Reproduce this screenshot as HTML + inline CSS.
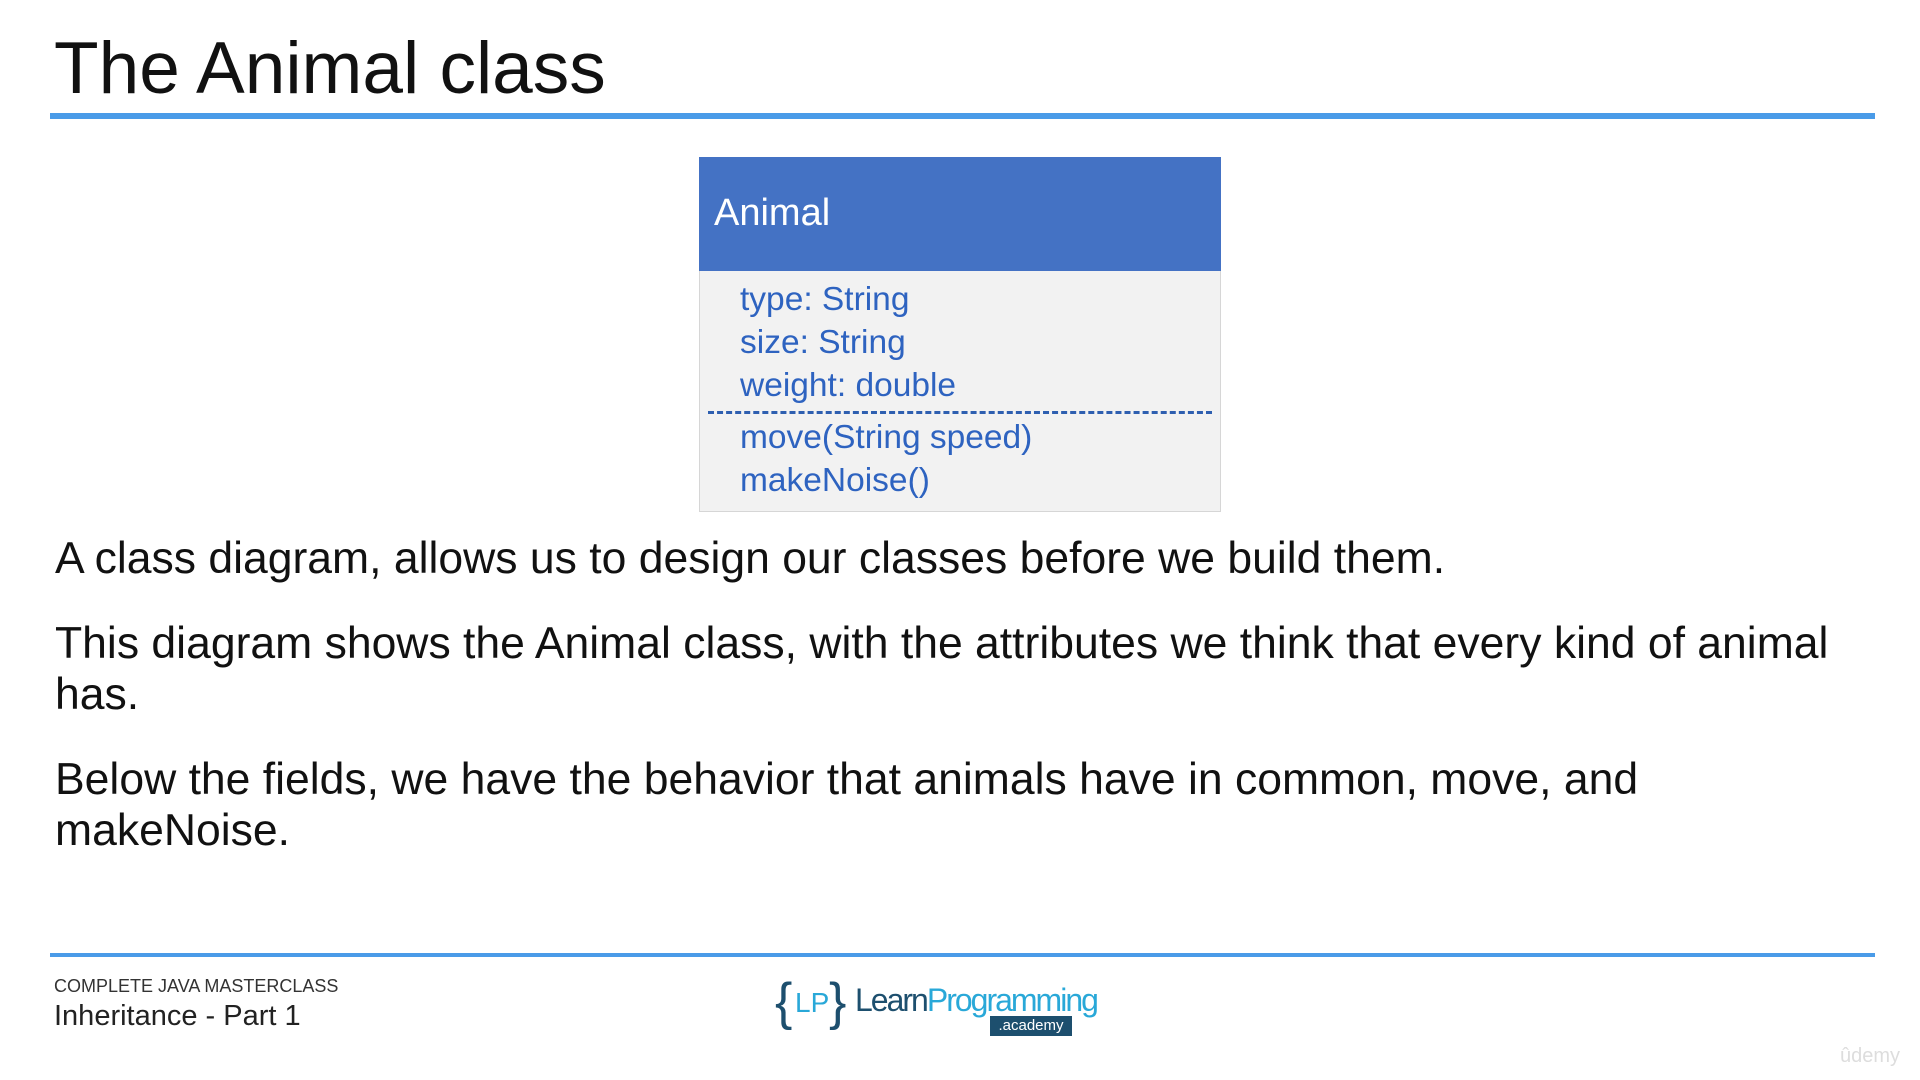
<!DOCTYPE html>
<html><head><meta charset="utf-8"><style>
body{margin:0;width:1920px;height:1080px;background:#fff;position:relative;overflow:hidden;font-family:"Liberation Sans",sans-serif;color:#111}
.a{position:absolute;white-space:nowrap}
</style></head><body>
<div class="a" style="left:54px;top:24px;font-size:73px;line-height:90px">The Animal class</div>
<div class="a" style="left:50px;top:113px;width:1825px;height:6px;background:#4a9be8"></div>
<div class="a" style="left:699px;top:157px;width:520px;height:353px;background:#f2f2f2;border:1px solid #d6d6d6"></div>
<div class="a" style="left:699px;top:157px;width:522px;height:114px;background:#4472c4"></div>
<div class="a" style="left:714px;top:191px;font-size:38px;line-height:44px;color:#fff">Animal</div>
<div class="a" style="left:740px;top:280px;font-size:33.5px;line-height:40px;color:#2e63c0">type: String</div>
<div class="a" style="left:740px;top:323px;font-size:33.5px;line-height:40px;color:#2e63c0">size: String</div>
<div class="a" style="left:740px;top:366px;font-size:33.5px;line-height:40px;color:#2e63c0">weight: double</div>
<div class="a" style="left:708px;top:411px;width:504px;border-top:3px dashed #2e5fb0"></div>
<div class="a" style="left:740px;top:418px;font-size:33.5px;line-height:40px;color:#2e63c0">move(String speed)</div>
<div class="a" style="left:740px;top:461px;font-size:33.5px;line-height:40px;color:#2e63c0">makeNoise()</div>
<div class="a" style="left:55px;top:533px;font-size:44.5px;line-height:52px">A class diagram, allows us to design our classes before we build them.</div>
<div class="a" style="left:55px;top:618px;font-size:44.5px;line-height:51px">This diagram shows the Animal class, with the attributes we think that every kind of animal<br>has.</div>
<div class="a" style="left:55px;top:754px;font-size:44.5px;line-height:51px">Below the fields, we have the behavior that animals have in common, move, and<br>makeNoise.</div>
<div class="a" style="left:50px;top:953px;width:1825px;height:4px;background:#4a9be8"></div>
<div class="a" style="left:54px;top:975px;font-size:18px;line-height:22px;color:#333">COMPLETE JAVA MASTERCLASS</div>
<div class="a" style="left:54px;top:998px;font-size:29px;line-height:36px;color:#222">Inheritance - Part 1</div>
<div class="a" style="left:775px;top:972px;width:320px;height:66px">
<div class="a" style="left:0;top:0;font-size:52px;line-height:60px;color:#1d4f6e">{</div>
<div class="a" style="left:20px;top:14px;font-size:28px;line-height:34px;color:#29a8d8">LP</div>
<div class="a" style="left:54px;top:0;font-size:52px;line-height:60px;color:#1d4f6e">}</div>
<div class="a" style="left:80px;top:10px;font-size:32px;line-height:36px;letter-spacing:-2px"><span style="color:#1d4f6e">Learn</span><span style="color:#29a8d8">Programming</span></div>
<div class="a" style="left:215px;top:44px;width:82px;height:20px;background:#1d4f6e;color:#fff;font-size:15px;line-height:20px;text-align:center">.academy</div>
</div>
<div class="a" style="left:1840px;top:1045px;font-size:20px;color:#ddd">ûdemy</div>
</body></html>
